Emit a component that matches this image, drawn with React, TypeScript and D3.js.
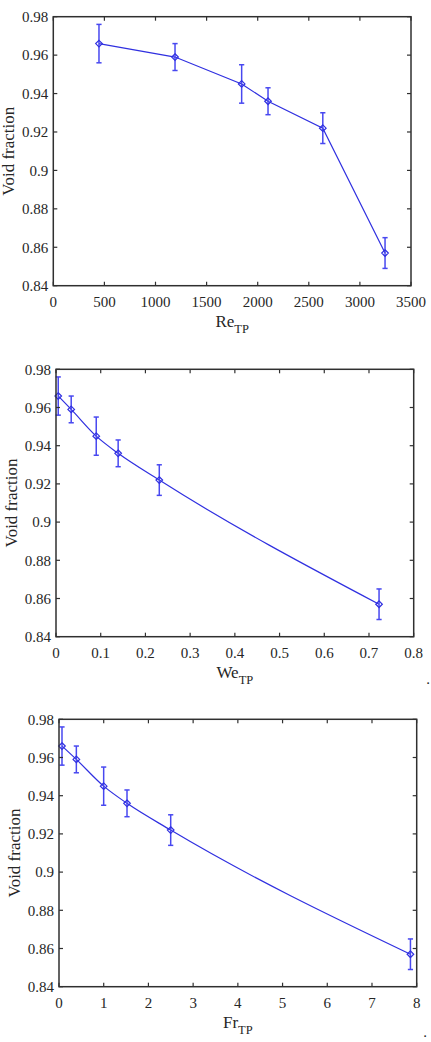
import React from "react";
import * as d3 from "d3";

// ---- data ----
const voidFraction = [0.966, 0.959, 0.945, 0.936, 0.922, 0.857];
const errUpper = [0.976, 0.966, 0.955, 0.943, 0.930, 0.865];
const errLower = [0.956, 0.952, 0.935, 0.929, 0.914, 0.849];
const reTP = [447, 1191, 1843, 2101, 2637, 3246];
const weTP = [0.005, 0.034, 0.09, 0.139, 0.231, 0.7225];
const frTP = [0.067, 0.388, 0.999, 1.521, 2.498, 7.86];
const yTicks = [0.84, 0.86, 0.88, 0.9, 0.92, 0.94, 0.96, 0.98];
const reTicks = [0, 500, 1000, 1500, 2000, 2500, 3000, 3500];
const weTicks = [0, 0.1, 0.2, 0.3, 0.4, 0.5, 0.6, 0.7, 0.8];
const frTicks = [0, 1, 2, 3, 4, 5, 6, 7, 8];
const yLabel = "Void fraction";

type Panel = {
  xs: number[];
  xTicks: number[];
  xDomain: [number, number];
  base: string;
  sub: string;
  left: number;
  right: number;
  top: number;
  bottom: number;
  smooth: boolean;
  dot: [number, number] | null;
};

const panels: Panel[] = [
  { xs: reTP, xTicks: reTicks, xDomain: [0, 3500], base: "Re", sub: "TP", left: 53.3, right: 411, top: 16.7, bottom: 285.7, smooth: false, dot: null },
  { xs: weTP, xTicks: weTicks, xDomain: [0, 0.8], base: "We", sub: "TP", left: 56, right: 413.7, top: 369.3, bottom: 636.7, smooth: true, dot: [428, 684] },
  { xs: frTP, xTicks: frTicks, xDomain: [0, 8], base: "Fr", sub: "TP", left: 59, right: 416.7, top: 719.3, bottom: 986.7, smooth: true, dot: [425, 1037] },
];

const FONT = "'Liberation Serif', 'DejaVu Serif', serif";
const AXIS = "#303030";
const TEXT = "#262626";
const LINE = "#3030e0";
const ERR = "#4848f0";

function fmt(v: number) {
  return String(+v.toFixed(2));
}

function PanelView({ p }: { p: Panel }) {
  const x = d3.scaleLinear().domain(p.xDomain).range([p.left, p.right]);
  const y = d3.scaleLinear().domain([0.84, 0.98]).range([p.bottom, p.top]);
  const pts = p.xs.map((v, i) => [x(v), y(voidFraction[i])] as [number, number]);
  const line = d3.line().curve(p.smooth ? d3.curveMonotoneX : d3.curveLinear);
  const tl = 4;
  const cap = 2.6;
  const r = 3.3;
  return (
    <g>
      {/* data line */}
      <path d={line(pts) || ""} fill="none" stroke={LINE} strokeWidth={1.2} />
      {/* error bars */}
      {p.xs.map((v, i) => {
        const cx = x(v);
        const y1 = y(errUpper[i]);
        const y2 = y(errLower[i]);
        return (
          <g key={"e" + i} stroke={ERR} strokeWidth={1.5}>
            <line x1={cx} x2={cx} y1={y1} y2={y2} />
            <line x1={cx - cap} x2={cx + cap} y1={y1} y2={y1} />
            <line x1={cx - cap} x2={cx + cap} y1={y2} y2={y2} />
          </g>
        );
      })}
      {/* markers */}
      {pts.map(([cx, cy], i) => (
        <path
          key={"m" + i}
          d={`M${cx},${cy - r}L${cx + r},${cy}L${cx},${cy + r}L${cx - r},${cy}Z`}
          fill="none"
          stroke={LINE}
          strokeWidth={1.2}
        />
      ))}
      {/* frame */}
      <rect x={p.left} y={p.top} width={p.right - p.left} height={p.bottom - p.top} fill="none" stroke={AXIS} strokeWidth={1.5} />
      {/* ticks */}
      {yTicks.map((t) => (
        <g key={"yt" + t}>
          <line x1={p.left} x2={p.left + tl} y1={y(t)} y2={y(t)} stroke={AXIS} strokeWidth={1.2} />
          <line x1={p.right} x2={p.right - tl} y1={y(t)} y2={y(t)} stroke={AXIS} strokeWidth={1.2} />
          <text x={p.left - 5} y={y(t)} dy="0.35em" textAnchor="end" fontFamily={FONT} fontSize={15} fill={TEXT}>
            {fmt(t)}
          </text>
        </g>
      ))}
      {p.xTicks.map((t) => (
        <g key={"xt" + t}>
          <line x1={x(t)} x2={x(t)} y1={p.bottom} y2={p.bottom - tl} stroke={AXIS} strokeWidth={1.2} />
          <line x1={x(t)} x2={x(t)} y1={p.top} y2={p.top + tl} stroke={AXIS} strokeWidth={1.2} />
          <text x={x(t)} y={p.bottom + 21} textAnchor="middle" fontFamily={FONT} fontSize={15} fill={TEXT}>
            {fmt(t)}
          </text>
        </g>
      ))}
      {/* axis labels */}
      <text
        transform={`translate(${p.left - 39},${(p.top + p.bottom) / 2}) rotate(-90)`}
        textAnchor="middle"
        fontFamily={FONT}
        fontSize={17}
        fill={TEXT}
      >
        {yLabel}
      </text>
      <text x={(p.left + p.right) / 2} y={p.bottom + 41.5} textAnchor="middle" fontFamily={FONT} fontSize={17} fill={TEXT}>
        {p.base}
        <tspan fontSize={12.5} dy={6}>{p.sub}</tspan>
      </text>
      {p.dot && (
        <text x={p.dot[0]} y={p.dot[1]} textAnchor="middle" fontFamily={FONT} fontSize={15} fill={TEXT}>
          .
        </text>
      )}
    </g>
  );
}

export default function App() {
  return (
    <svg
      width={431}
      height={1042}
      style={{ position: "absolute", left: 0, top: 0, background: "#fff" }}
    >
      <rect x={0} y={0} width={431} height={1042} fill="#fff" />
      {panels.map((p, i) => (
        <PanelView key={i} p={p} />
      ))}
    </svg>
  );
}
